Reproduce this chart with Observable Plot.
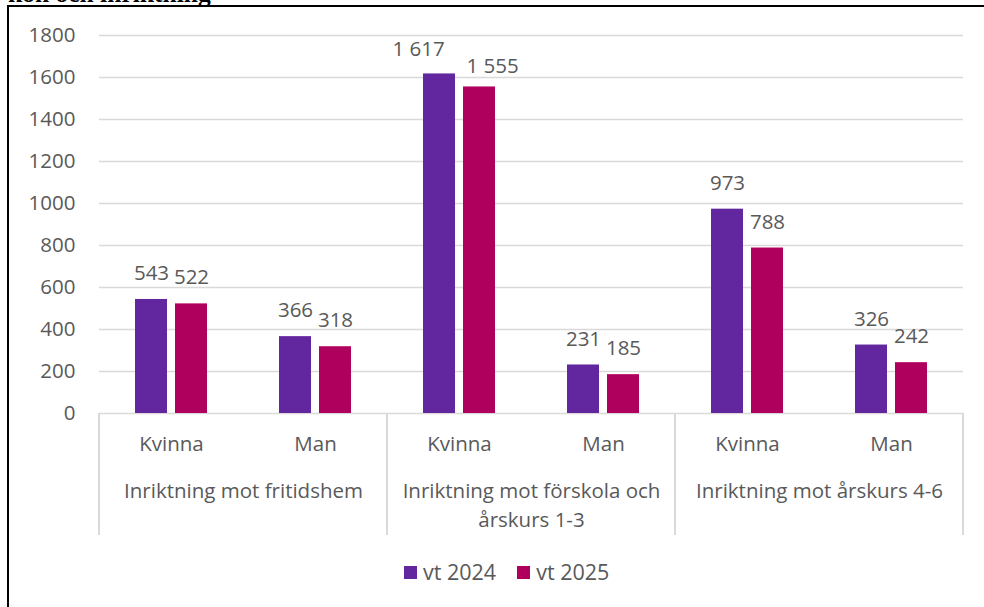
<!DOCTYPE html>
<html><head><meta charset="utf-8">
<script src="https://cdn.jsdelivr.net/npm/d3@7"></script>
<script src="https://cdn.jsdelivr.net/npm/@observablehq/plot@0.6"></script>
<style>
html,body{margin:0;padding:0;background:#fff;overflow:hidden;width:984px;height:607px;}
#title{position:absolute;left:8px;top:-19px;line-height:1;font-family:"Liberation Serif","DejaVu Serif",serif;font-weight:bold;font-size:25.5px;color:#000;white-space:nowrap;}
#box{position:absolute;left:7px;top:5px;width:1000px;height:620px;border-left:2px solid #000;border-top:2px solid #000;background:transparent;}
#chart{position:absolute;left:10px;top:7px;}
#legend{position:absolute;left:404px;top:557px;font-family:"Open Sans",sans-serif;font-size:21.5px;color:#595959;display:flex;align-items:center;white-space:nowrap;}
#legend .sw{display:inline-block;width:13px;height:13px;margin-right:6px;position:relative;top:1px;}
#legend .it{display:flex;align-items:center;margin-right:21px;}
</style></head>
<body>
<div id="title">kön och inriktning</div>
<div id="box"></div>
<div id="chart"></div>
<div id="legend"></div>
<script>
const groups = ["Inriktning mot fritidshem", "Inriktning mot förskola och\nårskurs 1-3", "Inriktning mot årskurs 4-6"];
const subs = ["Kvinna", "Man"];
const seriesNames = ["vt 2024", "vt 2025"];
const vt2024 = [543, 366, 1617, 231, 973, 326];
const vt2025 = [522, 318, 1555, 185, 788, 242];
const yTicks = [0, 200, 400, 600, 800, 1000, 1200, 1400, 1600, 1800];
const colors = ["#62269e", "#b0005e"];

const rows = [];
const facets = [];
groups.forEach((g, gi) => subs.forEach((s, si) => {
  const k = gi * 2 + si;
  facets.push({key: k, group: g, sub: s});
  rows.push({key: k, group: g, sub: s, series: seriesNames[0], value: vt2024[k]});
  rows.push({key: k, group: g, sub: s, series: seriesNames[1], value: vt2025[k]});
}));
const fmt = v => d3.format(",")(v).replace(/,/g, " ");
const font = "Open Sans";
const grey = "#595959";
const fs = 20.5;
const isCrowded = d => d.key === 2;

const W = 974, H = 540;
const plot = Plot.plot({
  width: W, height: H,
  marginLeft: 87, marginRight: 19, marginTop: 28, marginBottom: 134,
  style: {fontFamily: font, fontSize: fs + "px", color: grey, background: "transparent"},
  fx: {axis: null, padding: 0, domain: facets.map(d => d.key)},
  x: {axis: null, domain: seriesNames, paddingInner: 0.2, paddingOuter: 0.86},
  y: {domain: [0, 1800], ticks: yTicks, tickSize: 0, tickPadding: 24, label: null, tickFormat: d => String(d)},
  color: {domain: seriesNames, range: colors},
  marks: [
    Plot.ruleY(yTicks, {stroke: "#d9d9d9", strokeWidth: 1.5}),
    Plot.barY(rows, {fx: "key", x: "series", y: "value", fill: "series"}),
    Plot.text(rows.filter(d => !isCrowded(d)), {fx: "key", x: "series", y: "value", text: d => fmt(d.value), dy: -26, lineAnchor: "middle", fill: grey, fontSize: fs}),
    Plot.text(rows.filter(d => isCrowded(d) && d.series === seriesNames[0]), {fx: "key", x: "series", y: "value", text: d => fmt(d.value), dy: -24, dx: -21, lineAnchor: "middle", fill: grey, fontSize: fs}),
    Plot.text(rows.filter(d => isCrowded(d) && d.series === seriesNames[1]), {fx: "key", x: "series", y: "value", text: d => fmt(d.value), dy: -21, dx: 13, lineAnchor: "middle", fill: grey, fontSize: fs}),
    Plot.text(facets, {fx: "key", text: "sub", frameAnchor: "bottom", dy: 31, lineAnchor: "middle", fill: grey, fontSize: fs}),
    Plot.text(facets.filter(d => d.sub === subs[0]), {fx: "key", text: "group", frameAnchor: "bottom-right", textAnchor: "middle", lineAnchor: "top", lineHeight: 1.42, dy: 64, fill: grey, fontSize: fs})
  ]
});
document.getElementById("chart").appendChild(plot);

// hierarchical axis separators, positioned from the fx and y scales
const fxs = plot.scale("fx");
const ys = plot.scale("y");
const y0 = ys.apply(0);
const starts = facets.filter(d => d.sub === subs[0]).map(d => fxs.apply(d.key));
starts.push(fxs.apply(facets[facets.length - 1].key) + fxs.bandwidth);
d3.select(plot).append("g").selectAll("line").data(starts).join("line")
  .attr("x1", d => d).attr("x2", d => d)
  .attr("y1", y0).attr("y2", H - 12)
  .attr("stroke", "#d9d9d9").attr("stroke-width", 2);

const leg = d3.select("#legend");
seriesNames.forEach((s, i) => {
  const it = leg.append("div").attr("class", "it");
  it.append("span").attr("class", "sw").style("background", colors[i]);
  it.append("span").text(s);
});
</script>
</body></html>
